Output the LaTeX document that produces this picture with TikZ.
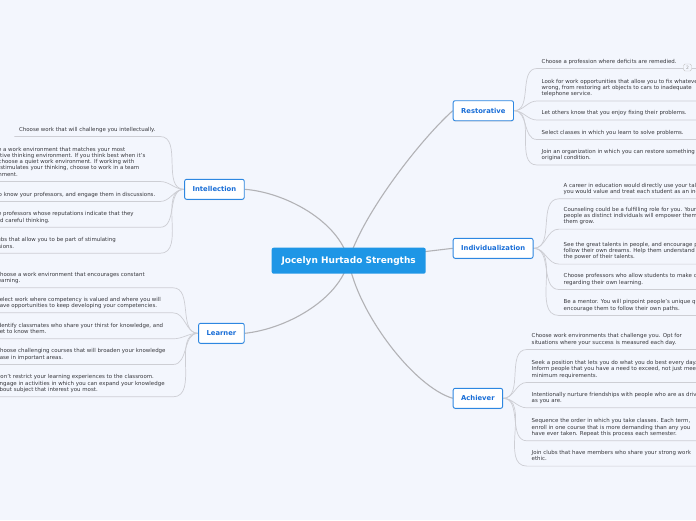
\documentclass[tikz,border=0pt]{standalone}
\usepackage{fontspec}
\setmainfont{DejaVu Sans}
\usetikzlibrary{shadows}
\definecolor{bgc}{RGB}{243,246,253}
\definecolor{rootc}{RGB}{30,150,230}
\definecolor{brd}{RGB}{45,135,225}
\definecolor{brt}{RGB}{25,110,215}
\definecolor{mainc}{RGB}{178,178,182}
\definecolor{leafc}{RGB}{205,206,212}
\definecolor{txt}{RGB}{55,55,60}
\newcommand{\leafR}[1]{\makebox[250pt][l]{\begin{tabular}[b]{@{}l@{}}#1\end{tabular}}}
\newcommand{\leafL}[1]{\makebox[174pt][l]{\begin{tabular}[b]{@{}l@{}}#1\end{tabular}}}
\newcommand{\leafM}[1]{\makebox[172pt][l]{\begin{tabular}[b]{@{}l@{}}#1\end{tabular}}}
\newcommand{\leafN}[1]{\begin{tabular}[b]{@{}l@{}}#1\end{tabular}}
\pgfdeclarelayer{bgl}
\pgfdeclarelayer{conn}
\pgfsetlayers{bgl,conn,main}
\begin{document}
\begin{tikzpicture}[x=1pt,y=-1pt,
  rootnode/.style={fill=rootc, text=white, rounded corners=2pt, font=\fontsize{9}{10}\bfseries\selectfont,
    minimum width=154pt, minimum height=26pt, inner sep=0pt},
  branch/.style={fill=white, draw=brd, line width=0.9pt, rounded corners=2pt, text=brt,
    font=\fontsize{6.8}{8}\bfseries\selectfont, minimum height=20pt, inner xsep=8pt, inner ysep=0pt,
    drop shadow={shadow xshift=0pt, shadow yshift=-0.8pt, opacity=0.25}},
  leaf/.style={font=\fontsize{5.45}{6.3}\selectfont, text=txt, inner xsep=4.5pt, inner ysep=3.2pt},
  lr/.style={leaf, anchor=south west},
  ll/.style={leaf, anchor=south east},
  mainline/.style={draw=mainc, line width=1.1pt},
  leafline/.style={draw=leafc, line width=0.7pt},
  badge/.style={draw=gray!45, fill=bgc, rounded corners=1.5pt, text=gray!80, font=\fontsize{4.5}{5}\selectfont,
    minimum width=8pt, minimum height=7pt, inner sep=0pt}
]
\useasboundingbox (0,0) rectangle (696,520);
\begin{pgfonlayer}{bgl}
\fill[bgc] (0,0) rectangle (696,520);
\end{pgfonlayer}
\clip (0,0) rectangle (696,520);

% root and branches
\node[rootnode] (root) at (348.7,260.7) {Jocelyn Hurtado Strengths};
\node[branch, anchor=west] (rest) at (452.7,110.7) {Restorative};
\node[branch, anchor=west] (indi) at (452.7,248.3) {Individualization};
\node[branch, anchor=west] (achi) at (452.7,398.3) {Achiever};
\node[branch, anchor=east] (intel) at (244.7,189.3) {Intellection};
\node[branch, anchor=east] (learn) at (244.7,333.3) {Learner};

% Restorative leaves
\node[lr] (r1) at (537,68.5) {\leafR{Choose a profession where deficits are remedied.}};
\node[lr] (r2) at (537,101) {\leafR{Look for work opportunities that allow you to fix whatever is\\wrong, from restoring art objects to cars to inadequate\\telephone service.}};
\node[lr] (r3) at (537,120) {\leafR{Let others know that you enjoy fixing their problems.}};
\node[lr] (r4) at (537,139.5) {\leafR{Select classes in which you learn to solve problems.}};
\node[lr] (r5) at (537,165) {\leafR{Join an organization in which you can restore something to its\\original condition.}};
\node[badge] (badge) at (687.5,67.5) {2};

% Individualization leaves
\node[lr] (i1) at (559,198.8) {\leafR{A career in education would directly use your talents, as\\you would value and treat each student as an individual.}};
\node[lr] (i2) at (559,229.1) {\leafR{Counseling could be a fulfilling role for you. Your ability to see\\people as distinct individuals will empower them and help\\them grow.}};
\node[lr] (i3) at (559,264.1) {\leafR{See the great talents in people, and encourage people to\\follow their own dreams. Help them understand and realize\\the power of their talents.}};
\node[lr] (i4) at (559,289.5) {\leafR{Choose professors who allow students to make choices\\regarding their own learning.}};
\node[lr] (i5) at (559,315.5) {\leafR{Be a mentor. You will pinpoint people's unique qualities and\\encourage them to follow their own paths.}};

% Achiever leaves
\node[lr] (a1) at (527,349.5) {\leafR{Choose work environments that challenge you. Opt for\\situations where your success is measured each day.}};
\node[lr] (a2) at (527,382.4) {\leafR{Seek a position that lets you do what you do best every day.\\Inform people that you have a need to exceed, not just meet\\minimum requirements.}};
\node[lr] (a3) at (527,407.8) {\leafR{Intentionally nurture friendships with people who are as driven\\as you are.}};
\node[lr] (a4) at (527,440.8) {\leafR{Sequence the order in which you take classes. Each term,\\enroll in one course that is more demanding than any you\\have ever taken. Repeat this process each semester.}};
\node[lr] (a5) at (527,466.1) {\leafR{Join clubs that have members who share your strong work\\ethic.}};

% Intellection leaves
\node[ll] (l1) at (160,136.5) {\leafN{Choose work that will challenge you intellectually.}};
\node[ll] (l2) at (160,181.5) {\leafL{Choose a work environment that matches your most\\productive thinking environment. If you think best when it's\\quiet, choose a quiet work environment. If working with\\others stimulates your thinking, choose to work in a team\\environment.}};
\node[ll] (l3) at (160,201.5) {\leafN{Get to know your professors, and engage them in discussions.}};
\node[ll] (l4) at (160,227.3) {\leafL{Choose professors whose reputations indicate that they\\demand careful thinking.}};
\node[ll] (l5) at (160,253.3) {\leafL{Join clubs that allow you to be part of stimulating\\discussions.}};

% Learner leaves
\node[ll] (e1) at (173,287.8) {\leafM{Choose a work environment that encourages constant\\learning.}};
\node[ll] (e2) at (173,312.8) {\leafM{Select work where competency is valued and where you will\\have opportunities to keep developing your competencies.}};
\node[ll] (e3) at (173,338.8) {\leafM{Identify classmates who share your thirst for knowledge, and\\get to know them.}};
\node[ll] (e4) at (173,364.5) {\leafM{Choose challenging courses that will broaden your knowledge\\base in important areas.}};
\node[ll] (e5) at (173,396.8) {\leafM{Don't restrict your learning experiences to the classroom.\\Engage in activities in which you can expand your knowledge\\about subject that interest you most.}};

\begin{pgfonlayer}{conn}
  % main connectors
  \draw[mainline] (root.center) .. controls +(13.3,-45.7) and +(-32.7,29.3) .. (rest.west);
  \draw[mainline] (root.center) -- (indi.west);
  \draw[mainline] (root.center) .. controls +(8,50) and +(-40,-12) .. (achi.west);
  \draw[mainline] (root.center) .. controls +(-10,-40) and +(40,3) .. (intel.east);
  \draw[mainline] (root.center) .. controls +(-10,40) and +(40,-4) .. (learn.east);
  % leaf connectors and underlines
  \foreach \n in {r1,r2,r3,r4,r5}
    \draw[leafline] (rest.east) to[out=0,in=180] (\n.south west) -- (\n.south east);
  \foreach \n in {i1,i2,i3,i4,i5}
    \draw[leafline] (indi.east) to[out=0,in=180] (\n.south west) -- (\n.south east);
  \foreach \n in {a1,a2,a3,a4,a5}
    \draw[leafline] (achi.east) to[out=0,in=180] (\n.south west) -- (\n.south east);
  \foreach \n in {l1,l2,l3,l4,l5}
    \draw[leafline] (intel.west) to[out=180,in=0] (\n.south east) -- (\n.south west);
  \foreach \n in {e1,e2,e3,e4,e5}
    \draw[leafline] (learn.west) to[out=180,in=0] (\n.south east) -- (\n.south west);
\end{pgfonlayer}
\end{tikzpicture}
\end{document}
